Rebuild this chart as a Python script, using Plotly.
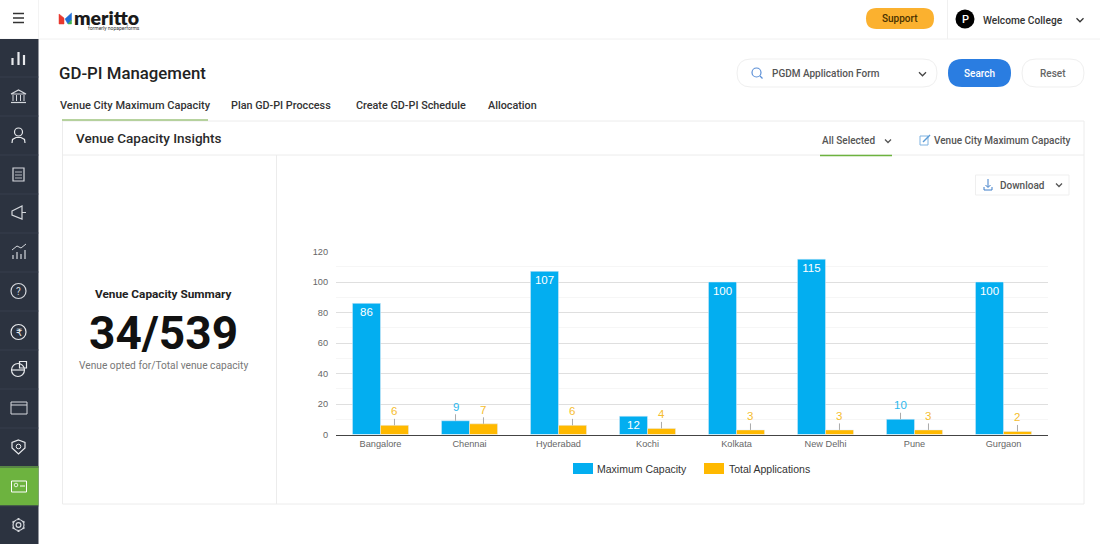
import plotly.graph_objects as go

W = 1100
H = 544

cities = ["Bangalore", "Chennai", "Hyderabad", "Kochi", "Kolkata", "New Delhi", "Pune", "Gurgaon"]
max_capacity = [86, 9, 107, 12, 100, 115, 10, 100]
total_applications = [6, 7, 6, 4, 3, 3, 3, 2]
y_ticks = [0, 20, 40, 60, 80, 100, 120]

BLUE = "#03aef0"
AMBER = "#ffb900"
SIDEBAR = "#2c3340"
GREEN = "#6db33f"
BORDER = "#ececec"
UI_FONT = "Roboto"
CHART_FONT = "Liberation Sans"

shapes = []
annotations = []


def px(x):
    return x / W


def py(y):
    return 1 - y / H


def rect(x0, y0, x1, y1, fill=None, line=None, width=1):
    shapes.append(dict(type="rect", xref="paper", yref="paper", x0=px(x0), x1=px(x1), y0=py(y0), y1=py(y1),
                       fillcolor=fill or "rgba(0,0,0,0)", line=dict(color=line or "rgba(0,0,0,0)", width=width if line else 0)))


def hline(x0, x1, y, color=BORDER, width=1):
    shapes.append(dict(type="line", xref="paper", yref="paper", x0=px(x0), x1=px(x1), y0=py(y), y1=py(y),
                       line=dict(color=color, width=width)))


def vline(x, y0, y1, color=BORDER, width=1):
    shapes.append(dict(type="line", xref="paper", yref="paper", x0=px(x), x1=px(x), y0=py(y0), y1=py(y1),
                       line=dict(color=color, width=width)))


def pill(x0, y0, x1, y1, fill=None, line=None):
    r = (y1 - y0) / 2
    d = (f"M{px(x0 + r)},{py(y0)} L{px(x1 - r)},{py(y0)} Q{px(x1)},{py(y0)} {px(x1)},{py(y0 + r)} "
         f"Q{px(x1)},{py(y1)} {px(x1 - r)},{py(y1)} L{px(x0 + r)},{py(y1)} "
         f"Q{px(x0)},{py(y1)} {px(x0)},{py(y0 + r)} Q{px(x0)},{py(y0)} {px(x0 + r)},{py(y0)} Z")
    shapes.append(dict(type="path", xref="paper", yref="paper", path=d, fillcolor=fill or "rgba(0,0,0,0)",
                       line=dict(color=line or "rgba(0,0,0,0)", width=1 if line else 0)))


def circle(cx, cy, r, fill=None, line=None, width=1.2):
    shapes.append(dict(type="circle", xref="paper", yref="paper", x0=px(cx - r), x1=px(cx + r),
                       y0=py(cy - r), y1=py(cy + r), fillcolor=fill or "rgba(0,0,0,0)",
                       line=dict(color=line or "rgba(0,0,0,0)", width=width if line else 0)))


def poly(points, color="#d5d8dd", width=1.2, fill=None, close=False):
    d = "M" + " L".join(f"{px(x)},{py(y)}" for x, y in points) + (" Z" if close else "")
    shapes.append(dict(type="path", xref="paper", yref="paper", path=d, fillcolor=fill or "rgba(0,0,0,0)",
                       line=dict(color=color, width=width)))


def chevron(cx, cy, color="#444444", size=3.5):
    poly([(cx - size, cy - size / 2), (cx, cy + size / 2), (cx + size, cy - size / 2)], color=color, width=1.3)


def label(x, y, text, size=11, color="#333333", anchor="left", weight=400, family=UI_FONT):
    annotations.append(dict(xref="paper", yref="paper", x=px(x), y=py(y), text=text, showarrow=False,
                            xanchor=anchor, yanchor="middle", borderpad=0, borderwidth=0,
                            font=dict(family=family, size=size, color=color, weight=weight)))


# top bar
hline(0, W, 39, "#f0f0f0")
vline(38.5, 0, 39, "#f3f3f3")
vline(947.5, 0, 39, "#f0f0f0")
for y in (13.5, 18, 22.5):
    hline(13, 24, y, "#333333", 1.5)
poly([(59, 14), (64, 18), (64, 24), (59, 24)], color="#e8392f", fill="#e8392f", width=0.5, close=True)
poly([(65, 19), (71.5, 13), (71.5, 20), (68, 24)], color="#1f6fd6", fill="#1f6fd6", width=0.5, close=True)
poly([(68, 24), (71.5, 20), (71.5, 24)], color="#3ab54a", fill="#3ab54a", width=0.5, close=True)
label(74, 17, "meritto", 19.5, "#1a1a1a", weight=800, family="Lato")
label(88, 28, "formerly nopaperforms", 5, "#333333")
pill(866, 8, 934, 29, fill="#fbb12f")
label(900, 18.5, "Support", 10, "#4a3200", "center", 500)
circle(965, 19, 9.5, fill="#000000")
label(965, 19.5, "P", 11, "#ffffff", "center", 500)
label(983, 20.5, "Welcome College", 10.2, "#333333", weight=500)
chevron(1080, 20, "#333333")

# sidebar
rect(0, 39, 38.5, H, fill=SIDEBAR)
rect(0, 466, 38.5, 505.5, fill=GREEN)
for y in range(77, 540, 39):
    hline(0, 38.5, y, "#3a4150", 0.8)

# sidebar icons
for x, y0 in ((12.5, 58), (18.5, 52), (24, 55)):
    vline(x, y0, 65, "#e8eaed", 2.2)
poly([(11, 94), (18.5, 90), (26, 94), (11, 94)])
for x in (13, 16.5, 20.5, 24):
    vline(x, 95, 101, "#d5d8dd", 1)
hline(11, 26, 102.5, "#d5d8dd", 1.2)
circle(18.5, 132, 4, line="#e8eaed")
poly([(12, 143), (12.5, 139.5), (16, 137.5), (21, 137.5), (24.5, 139.5), (25, 143)], "#e8eaed")
poly([(13, 168), (24, 168), (24, 181), (13, 181)], close=True)
for y in (172, 175, 178):
    hline(15, 22, y, "#d5d8dd", 0.8)
poly([(12, 211), (22, 206), (22, 219), (12, 215)], close=True)
hline(22, 26, 212.5, "#d5d8dd")
for x, y0 in ((13, 255), (17, 252), (21, 254), (25, 250)):
    vline(x, y0, 259, "#d5d8dd", 1.2)
poly([(12, 250), (17, 246), (21, 248), (26, 244)], width=1)
circle(18.5, 291, 7.5, line="#d5d8dd")
label(18.5, 291, "?", 10, "#d5d8dd", "center")
circle(18.5, 332, 7.5, line="#e8eaed")
label(18.5, 332, "₹", 10, "#e8eaed", "center", family="DejaVu Sans")
circle(18, 370, 6.5, line="#e8eaed")
poly([(19.5, 361.5), (26.5, 361.5), (26.5, 368), (19.5, 368)], "#e8eaed", close=True)
poly([(11.5, 370), (24.5, 370)], "#e8eaed")
rect(11, 402, 27, 414, line="#d5d8dd", width=1)
hline(11, 27, 405, "#d5d8dd", 1)
poly([(18.5, 440), (25, 442.5), (25, 448), (18.5, 454), (12, 448), (12, 442.5)], "#e8eaed", close=True)
circle(18.5, 446.5, 2.3, line="#e8eaed", width=1)
rect(11.5, 481, 26.5, 492, line="#ffffff", width=1)
circle(16, 485, 1.8, line="#ffffff", width=0.8)
hline(20, 25, 486, "#ffffff", 1)
circle(18.5, 525, 5.5, line="#d5d8dd")
circle(18.5, 525, 2.4, line="#d5d8dd")
for dx, dy in ((0, -7), (0, 7), (-6, -3.5), (6, -3.5), (-6, 3.5), (6, 3.5)):
    poly([(18.5 + dx * 0.8, 525 + dy * 0.8), (18.5 + dx, 525 + dy)], "#d5d8dd", 2)

# page header
label(59, 72.5, "GD-PI Management", 16.8, "#222222", weight=500)
pill(737, 59, 937, 87, fill="#ffffff", line="#efefef")
circle(756.5, 72.5, 4.5, line="#5b8fd6")
poly([(760, 76), (762.5, 78.5)], "#5b8fd6")
label(772, 73.5, "PGDM Application Form", 10, "#555555", weight=500)
chevron(922.5, 74, "#444444")
pill(948, 59, 1011, 87, fill="#2a7de1")
label(979.5, 73.5, "Search", 10, "#ffffff", "center", 500)
pill(1022, 59, 1084, 87, fill="#ffffff", line="#efefef")
label(1053, 73.5, "Reset", 10, "#666666", "center", 500)

# tabs
label(60, 105.5, "Venue City Maximum Capacity", 11, "#333333", weight=500)
label(231, 105.5, "Plan GD-PI Proccess", 10.8, "#333333", weight=500)
label(356, 105.5, "Create GD-PI Schedule", 10.8, "#333333", weight=500)
label(488, 105.5, "Allocation", 10.8, "#333333", weight=500)

# panel
rect(62.5, 121, 1084, 504, line=BORDER)
hline(62, 208, 120, "#9fc47f", 1.6)
hline(62.5, 1084, 155, BORDER)
vline(276.5, 155, 504, BORDER)
label(76, 138, "Venue Capacity Insights", 13.5, "#2a2a2a", weight=500)
label(822, 140.5, "All Selected", 10, "#555555", weight=500)
chevron(888, 141, "#555555", 3)
hline(820, 892, 155.5, GREEN, 1.4)
rect(920, 136, 928, 145, line="#7fb2e0", width=1)
poly([(923, 142), (930, 135)], "#5b9bd6", 1.4)
label(934, 140.5, "Venue City Maximum Capacity", 10, "#555555", weight=500)
rect(975.5, 175, 1069, 195, fill="#ffffff", line="#efefef")
vline(988, 179, 187, "#3f7fc9", 1)
poly([(985.5, 185), (988, 187.5), (990.5, 185)], "#3f7fc9", 1)
poly([(984, 187), (984, 190), (992, 190), (992, 187)], "#3f7fc9", 1)
label(1000, 185, "Download", 10, "#555555", weight=500)
chevron(1059, 185, "#555555", 3)

# summary
label(163, 294, "Venue Capacity Summary", 11.8, "#222222", "center", 700)
label(163, 332.5, "34/539", 46, "#111111", "center", 700)
label(163, 365.5, "Venue opted for/Total venue capacity", 10.2, "#777777", "center")

# legend, plotly's own swatch is too small for this one
rect(573, 463, 593, 474, fill=BLUE)
label(597, 468.5, "Maximum Capacity", 10.5, "#333333", family=CHART_FONT)
rect(704, 463, 724, 474, fill=AMBER)
label(729, 468.5, "Total Applications", 10.5, "#333333", family=CHART_FONT)

# small values get a leader line above the bar, the rest sit inside it
bar_half = 0.157
for i, city in enumerate(cities):
    if max_capacity[i] < 12:
        annotations.append(dict(x=i - bar_half, y=max_capacity[i], xref="x", yref="y", text=str(max_capacity[i]),
                                showarrow=True, arrowhead=0, arrowwidth=1, arrowcolor="#aaaaaa", ax=0, ay=-14,
                                font=dict(family=CHART_FONT, size=11.5, color="#2bb8ee")))
    annotations.append(dict(x=i + bar_half, y=total_applications[i], xref="x", yref="y", text=str(total_applications[i]),
                            showarrow=True, arrowhead=0, arrowwidth=1, arrowcolor="#aaaaaa", ax=0, ay=-14,
                            font=dict(family=CHART_FONT, size=11.5, color="#f5bd2e")))

fig = go.Figure()
fig.add_trace(go.Bar(x=cities, y=max_capacity, name="Maximum Capacity", marker_color=BLUE,
                     text=[str(v) if v >= 12 else "" for v in max_capacity],
                     textposition="inside", insidetextanchor="end", textangle=0, constraintext="none",
                     textfont=dict(family=CHART_FONT, size=11.5, color="#ffffff")))
fig.add_trace(go.Bar(x=cities, y=total_applications, name="Total Applications", marker_color=AMBER))

fig.update_layout(
    width=W,
    height=H,
    margin=dict(l=0, r=0, t=0, b=0, autoexpand=False),
    showlegend=False,
    paper_bgcolor="#ffffff",
    plot_bgcolor="#ffffff",
    barmode="group",
    bargap=0.37,
    bargroupgap=0,
    shapes=shapes,
    annotations=annotations,
    xaxis=dict(domain=[px(336), px(1048)], showgrid=False, showline=True, linecolor="#444444", linewidth=1.2,
               ticks="", tickfont=dict(family=CHART_FONT, size=9.2, color="#666666")),
    yaxis=dict(domain=[py(434.5), py(251.5)], range=[0, 120], tickvals=y_ticks, gridcolor="#dfdfdf", gridwidth=1,
               zeroline=False, ticks="", ticklabelstandoff=7, tickfont=dict(family=CHART_FONT, size=9.2, color="#666666"),
               minor=dict(dtick=10, showgrid=True, gridcolor="#f6f6f6", gridwidth=1)),
)

fig.write_html("out.html", config={"displayModeBar": False}, post_script="document.body.style.margin='0';")
